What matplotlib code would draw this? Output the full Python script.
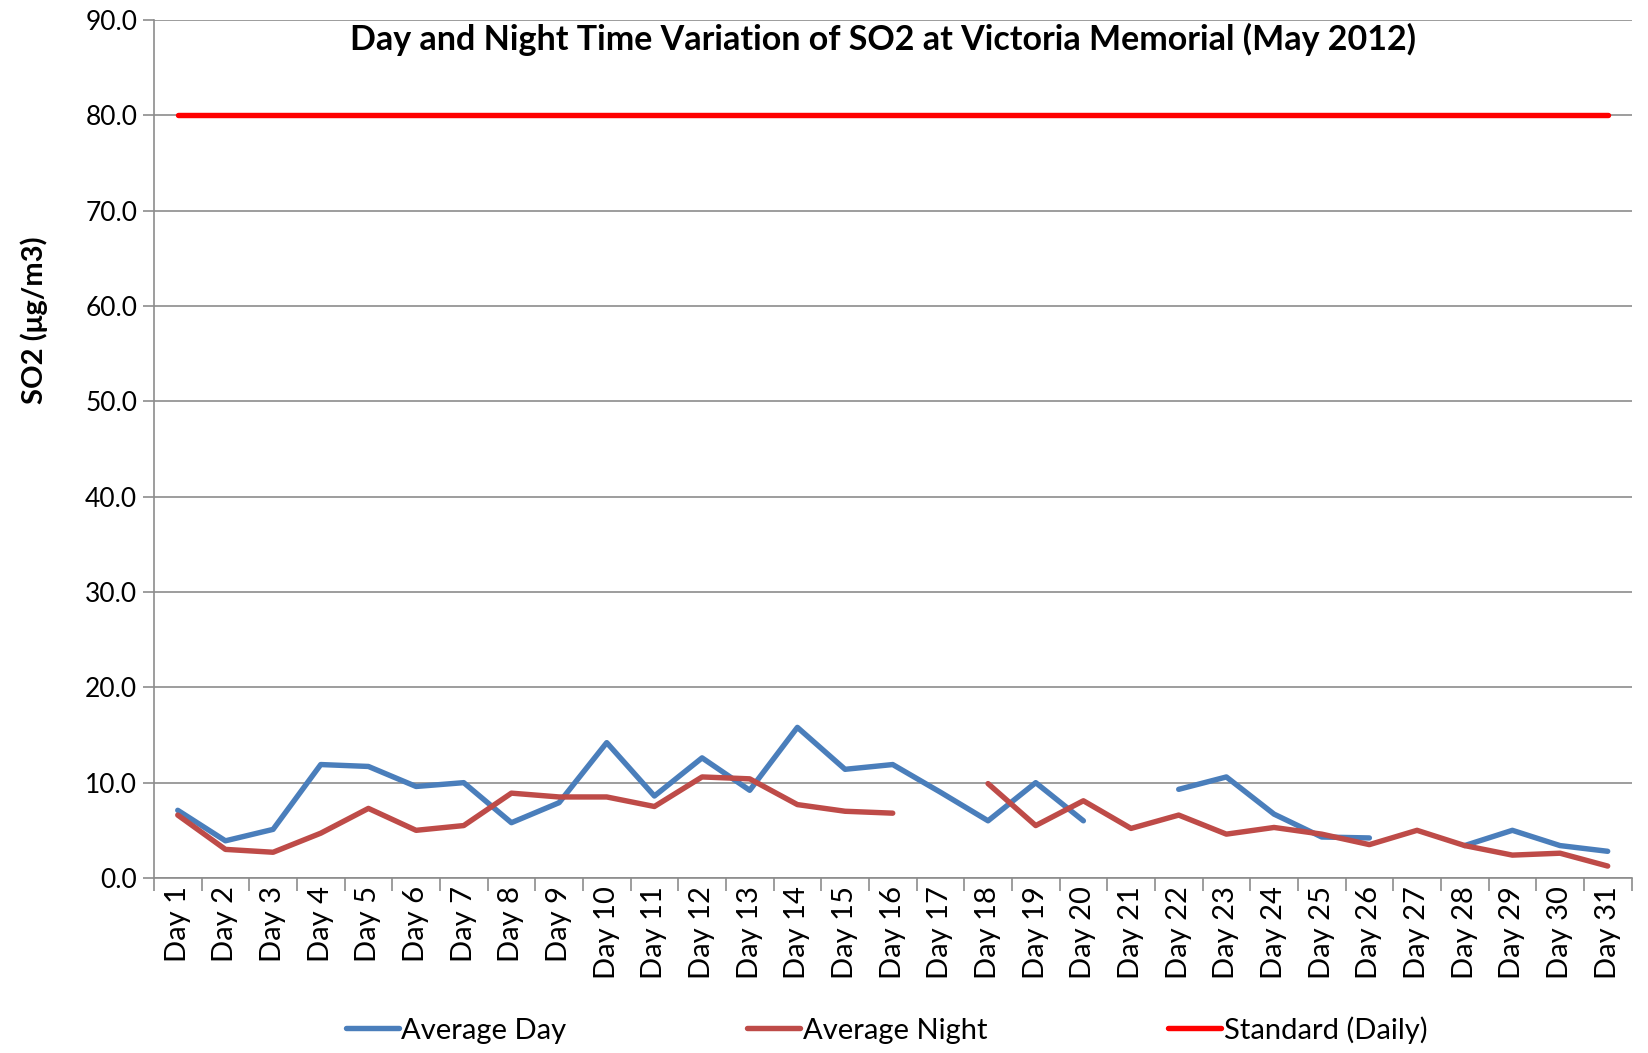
import numpy as np
from matplotlib import pyplot as plt
from matplotlib.ticker import MultipleLocator, FixedLocator

nan = np.nan
days = ['Day %d' % i for i in range(1, 32)]
avg_day = [7.1, 3.9, 5.1, 11.9, 11.7, 9.6, 10.0, 5.8, 7.9, 14.2,
           8.6, 12.6, 9.2, 15.8, 11.4, 11.9, 9.0, 6.0, 10.0, 6.0,
           nan, 9.3, 10.6, 6.7, 4.3, 4.2, nan, 3.4, 5.0, 3.4, 2.8]
avg_night = [6.6, 3.0, 2.7, 4.7, 7.3, 5.0, 5.5, 8.9, 8.5, 8.5,
             7.5, 10.6, 10.4, 7.7, 7.0, 6.8, nan, 9.9, 5.5, 8.1,
             5.2, 6.6, 4.6, 5.3, 4.6, 3.5, 5.0, 3.4, 2.4, 2.6, 1.25]
standard = [80.0] * 31

plt.rcParams['font.family'] = ['Lato', 'DejaVu Sans']

fig = plt.figure(figsize=(16.48, 10.53), dpi=100)
ax = fig.add_axes([0.0934, 0.1662, 0.8966, 0.8148])

x = np.arange(1, 32)
ax.plot(x, avg_day, color='#4A7EBB', lw=3.9, label='Average Day', solid_capstyle='round')
ax.plot(x, avg_night, color='#BE4B48', lw=3.9, label='Average Night', solid_capstyle='round')
ax.plot(x, standard, color='#FF0000', lw=3.9, label='Standard (Daily)', solid_capstyle='round')

ax.set_xlim(0.5, 31.5)
ax.set_ylim(0, 90)
ax.yaxis.set_major_locator(MultipleLocator(10))
ax.set_yticklabels(['%.1f' % v for v in ax.get_yticks()])
ax.grid(axis='y', color='#8c8c8c', lw=1.2)
ax.set_axisbelow(True)

ax.set_xticks(x)
ax.set_xticklabels(days, rotation=90, fontsize=21)
ax.xaxis.set_minor_locator(FixedLocator(np.arange(0.5, 32, 1)))
ax.tick_params(axis='x', which='major', length=0, pad=6)
ax.tick_params(axis='x', which='minor', length=9, color='#8c8c8c', width=1.2)
ax.tick_params(axis='y', length=8, color='#8c8c8c', width=1.2, labelsize=19, pad=4)

for s in ['top', 'right']:
    ax.spines[s].set_visible(False)
for s in ['left', 'bottom']:
    ax.spines[s].set_color('#8c8c8c')
    ax.spines[s].set_linewidth(1.2)

fig.text(0.536, 0.963, 'Day and Night Time Variation of SO2 at Victoria Memorial (May 2012)',
         ha='center', va='center', fontsize=24.5, fontweight='bold')
fig.text(0.021, 0.696, 'SO2 (\u03bcg/m3)', rotation=90, ha='center', va='center',
         fontsize=21, fontweight='bold')

fig.legend(loc='center', bbox_to_anchor=(0.538, 0.022), ncol=3, frameon=False,
           fontsize=21, handlelength=1.8, handletextpad=0.1, columnspacing=6.2)

fig.savefig('out.png', dpi=100)
